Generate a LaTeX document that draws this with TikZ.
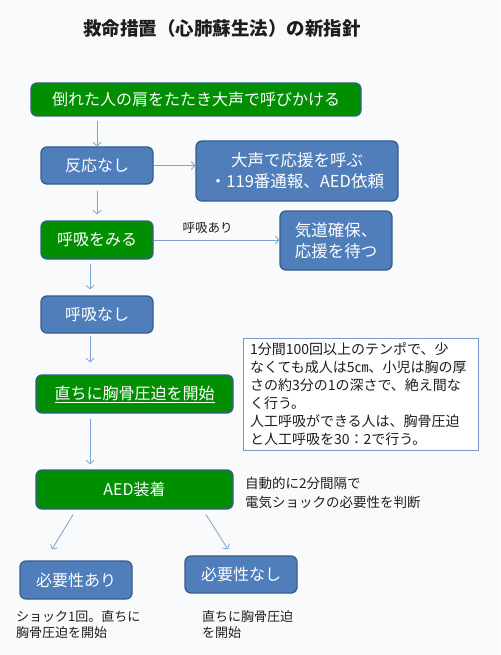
\documentclass[tikz,border=0pt]{standalone}
\usepackage{fontspec}
\setmainfont{Noto Sans CJK JP}
\usetikzlibrary{arrows.meta,positioning,calc}
\definecolor{stepGreen}{HTML}{008F00}
\definecolor{stepBlue}{HTML}{4F7EBB}
\definecolor{stepEdge}{HTML}{385D8A}
\definecolor{arcBlue}{HTML}{7FA0D2}
\definecolor{noteEdge}{HTML}{7A98C8}
\definecolor{pageFill}{HTML}{F9FAFC}
\definecolor{inkText}{HTML}{1E1E1E}
\tikzset{
  stepbox/.style={draw=stepEdge, line width=1.3pt, rounded corners=6pt,
    text=white, inner sep=0pt, align=center,
    font=\fontsize{16}{20.5}\selectfont},
  greenbox/.style={stepbox, fill=stepGreen},
  bluebox/.style={stepbox, fill=stepBlue},
  notebox/.style={draw=noteEdge, fill=white, line width=0.8pt,
    text width=221pt, minimum height=112pt, inner xsep=7pt, align=left,
    text=inkText, font=\fontsize{14}{18}\selectfont},
  notetext/.style={text=inkText, inner sep=0pt, align=left,
    font=\fontsize{13.5}{19}\selectfont},
  arc/.style={-{Straight Barb[length=3.5pt, width=8pt]}, draw=arcBlue, line width=0.8pt},
  arcLabel/.style={text=inkText, font=\fontsize{12.5}{14}\selectfont},
}

\begin{document}
\begin{tikzpicture}[x=1pt, y=-1pt]
    \fill[pageFill] (0,0) rectangle (500,655);
    \useasboundingbox (0,0) rectangle (500,655);
    \node[text=inkText, font=\bfseries\fontsize{18.5}{20}\selectfont] (title) at (222,28) {救命措置（心肺蘇生法）の新指針};
    \node[greenbox, minimum width=330pt, minimum height=33pt] (start) at (196,99.5) {倒れた人の肩をたたき大声で呼びかける};
    \node[bluebox, minimum width=112pt, minimum height=37pt] (react) at (97,165.5) {反応なし};
    \node[bluebox, minimum width=202pt, minimum height=60pt, font=\fontsize{16.5}{21}\selectfont] (call) at (297,171) {大声で応援を呼ぶ\\・119番通報、AED依頼};
    \node[greenbox, minimum width=112pt, minimum height=38pt] (look) at (97,240) {呼吸をみる};
    \node[bluebox, minimum width=112pt, minimum height=59pt, font=\fontsize{16.5}{20.5}\selectfont] (wait) at (336,240.5) {気道確保、\\応援を待つ};
    \node[bluebox, minimum width=112pt, minimum height=37pt] (nobreath) at (97,314.5) {呼吸なし};
    \node[greenbox, minimum width=197pt, minimum height=38pt] (cpr) at (134.5,394) {\underline{直ちに胸骨圧迫を開始}};
    \node[notebox] (note) at (360.5,394) {1分間100回以上のテンポで、少\\なくても成人は5㎝、小児は胸の厚\\さの約3分の1の深さで、絶え間な\\く行う。\\人工呼吸ができる人は、胸骨圧迫\\と人工呼吸を30：2で行う。};
    \node[greenbox, minimum width=197pt, minimum height=39pt] (aed) at (134.5,489.5) {AED装着};
    \node[notetext, anchor=west] (aedtxt) at (245,492.5) {自動的に2分間隔で\\電気ショックの必要性を判断};
    \node[bluebox, minimum width=112pt, minimum height=38pt] (need) at (76,580) {必要性あり};
    \node[bluebox, minimum width=112pt, minimum height=37pt] (noneed) at (241,574.5) {必要性なし};
    \node[notetext, anchor=north west, font=\fontsize{13}{16}\selectfont] (needtxt) at (16,610) {ショック1回。直ちに\\胸骨圧迫を開始};
    \node[notetext, anchor=north west, font=\fontsize{13}{16}\selectfont] (noneedtxt) at (202,610) {直ちに胸骨圧迫\\を開始};
    % connectors
    \draw[arc, shorten <=4pt] (react.north |- start.south) -- (react.north);
    \draw[arc] (react.east) -- (react.east -| call.west);
    \draw[arc, shorten <=6pt, shorten >=6pt] (react.south) -- (look.north);
    \draw[arc] (look.east) -- node[arcLabel, pos=0.43, above=3pt] {呼吸あり} (look.east -| wait.west);
    \draw[arc, shorten <=4pt, shorten >=6pt] ([xshift=-7pt]look.south) -- ([xshift=-7pt]nobreath.north);
    \draw[arc, shorten <=2pt, shorten >=12pt] ([xshift=-7pt]nobreath.south) -- ([xshift=-7pt]nobreath.south |- cpr.north);
    \draw[arc, shorten <=5pt, shorten >=5pt] ([xshift=-7pt]nobreath.south |- cpr.south) -- ([xshift=-7pt]nobreath.south |- aed.north);
    \draw[arc] ([xshift=-61.5pt, yshift=-5pt]aed.south) -- ([xshift=-24pt, yshift=11pt]need.north);
    \draw[arc] ([xshift=71.5pt, yshift=-5pt]aed.south) -- ([xshift=-13pt, yshift=6pt]noneed.north);
\end{tikzpicture}
\end{document}
